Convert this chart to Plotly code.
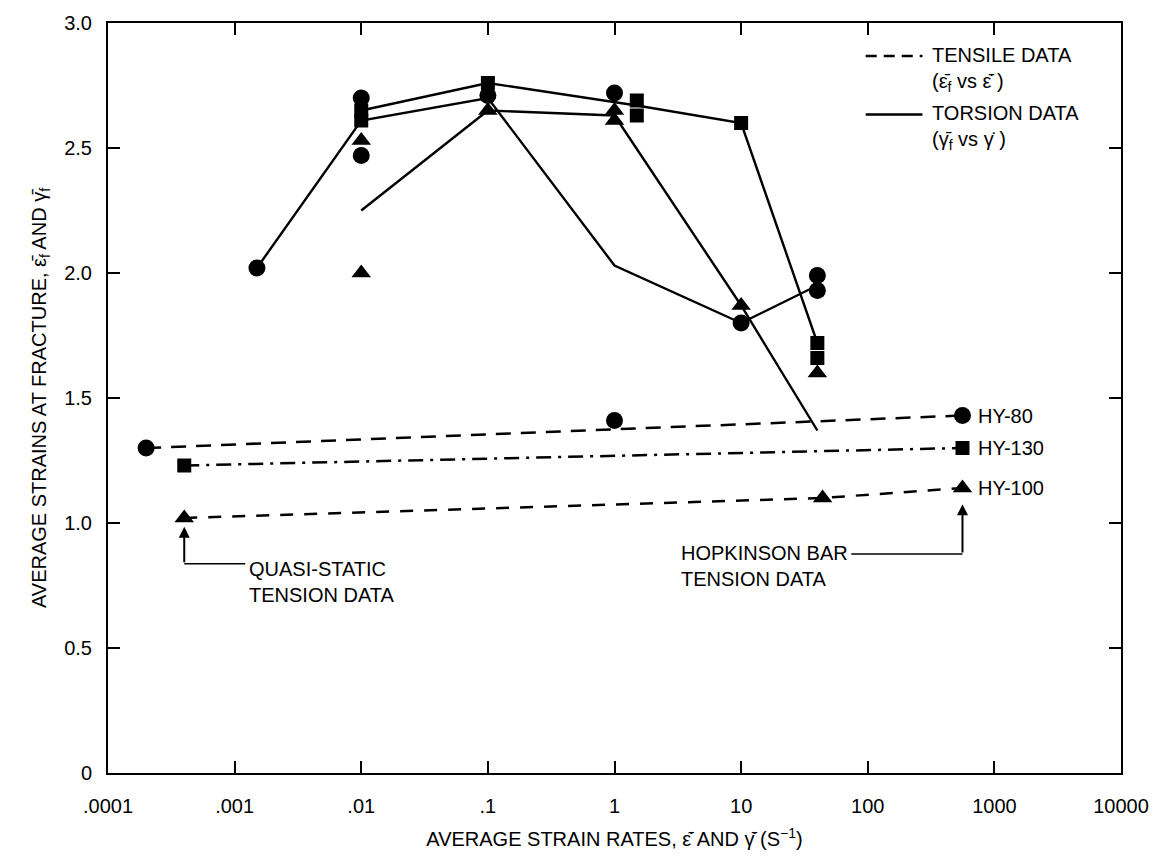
import plotly.graph_objects as go
import math

# ---------------- data ----------------
# Torsion data (solid lines): strain rate (1/s) vs fracture strain
tor_hy80_x = [0.0015, 0.01, 0.1, 1, 10, 40]
tor_hy80_y = [2.02, 2.61, 2.70, 2.03, 1.80, 1.95]
tor_hy130_x = [0.01, 0.1, 1.5, 10, 40]
tor_hy130_y = [2.65, 2.76, 2.67, 2.60, 1.72]
tor_hy100_x = [0.01, 0.1, 1, 10, 40]
tor_hy100_y = [2.25, 2.65, 2.63, 1.87, 1.37]

# Individual measured points (markers)
circ_x = [0.0015, 0.01, 0.01, 0.1, 1, 1, 10, 40, 40]
circ_y = [2.02, 2.70, 2.47, 2.71, 2.72, 1.41, 1.80, 1.99, 1.93]
sq_x = [0.01, 0.01, 0.1, 1.5, 1.5, 10, 40, 40]
sq_y = [2.65, 2.61, 2.76, 2.69, 2.63, 2.60, 1.72, 1.66]
tri_x = [0.01, 0.01, 0.1, 1, 1, 10, 40]
tri_y = [2.53, 2.00, 2.65, 2.65, 2.61, 1.87, 1.60]

# Tensile data (dashed lines)
ten_hy80_x = [0.0002, 560]
ten_hy80_y = [1.30, 1.43]
ten_hy130_x = [0.0004, 560]
ten_hy130_y = [1.23, 1.30]
ten_hy100_x = [0.0004, 44, 560]
ten_hy100_y = [1.02, 1.10, 1.14]

steel_labels = ["HY-80", "HY-130", "HY-100"]
x_tickvals = [1e-4, 1e-3, 1e-2, 1e-1, 1, 10, 100, 1000, 10000]
x_ticktext = [".0001", ".001", ".01", ".1", "1", "10", "100", "1000", "10000"]
y_tickvals = [0, 0.5, 1.0, 1.5, 2.0, 2.5, 3.0]
y_ticktext = ["0", "0.5", "1.0", "1.5", "2.0", "2.5", "3.0"]

FONT = "Liberation Sans, Arial, sans-serif"
FS = 20
BLK = "black"

fig = go.Figure()

# torsion lines
for nm, xs, ys in [("HY-80 torsion", tor_hy80_x, tor_hy80_y),
                   ("HY-130 torsion", tor_hy130_x, tor_hy130_y),
                   ("HY-100 torsion", tor_hy100_x, tor_hy100_y)]:
    fig.add_trace(go.Scatter(x=xs, y=ys, mode="lines", name=nm,
                             line=dict(color=BLK, width=2.4), showlegend=False))

# tensile lines
for nm, xs, ys, dash in [("HY-80 tensile", ten_hy80_x, ten_hy80_y, "15px,10px"),
                         ("HY-130 tensile", ten_hy130_x, ten_hy130_y, "15px,7px,3px,7px"),
                         ("HY-100 tensile", ten_hy100_x, ten_hy100_y, "13px,11px")]:
    fig.add_trace(go.Scatter(x=xs, y=ys, mode="lines", name=nm,
                             line=dict(color=BLK, width=2.5, dash=dash), showlegend=False))

# tensile end markers
fig.add_trace(go.Scatter(x=ten_hy80_x, y=ten_hy80_y, mode="markers", showlegend=False,
                         marker=dict(symbol="circle", size=17, color=BLK)))
fig.add_trace(go.Scatter(x=ten_hy130_x, y=ten_hy130_y, mode="markers", showlegend=False,
                         marker=dict(symbol="square", size=14, color=BLK)))
fig.add_trace(go.Scatter(x=ten_hy100_x, y=ten_hy100_y, mode="markers", showlegend=False,
                         marker=dict(symbol="triangle-up", size=17, color=BLK)))

# torsion markers
fig.add_trace(go.Scatter(x=circ_x, y=circ_y, mode="markers", showlegend=False,
                         marker=dict(symbol="circle", size=17, color=BLK)))
fig.add_trace(go.Scatter(x=sq_x, y=sq_y, mode="markers", showlegend=False,
                         marker=dict(symbol="square", size=14, color=BLK)))
fig.add_trace(go.Scatter(x=tri_x, y=tri_y, mode="markers", showlegend=False,
                         marker=dict(symbol="triangle-up", size=17, color=BLK)))

annotations = []
# steel labels at right end of tensile lines
for lab, xs, ys in zip(steel_labels,
                       [ten_hy80_x, ten_hy130_x, ten_hy100_x],
                       [ten_hy80_y, ten_hy130_y, ten_hy100_y]):
    annotations.append(dict(x=math.log10(xs[-1]), y=ys[-1], xref="x", yref="y",
                            text=lab, showarrow=False, xanchor="left", xshift=14,
                            font=dict(size=FS, family=FONT, color=BLK)))

# quasi-static arrow
qs_x = ten_hy100_x[0]
qs_text_x = 0.00125
annotations.append(dict(x=math.log10(qs_x), y=0.985, xref="x", yref="y",
                        ax=math.log10(qs_x), ay=0.837, axref="x", ayref="y",
                        text="", showarrow=True, arrowhead=2, arrowsize=1.1,
                        arrowwidth=2, arrowcolor=BLK))
annotations.append(dict(x=math.log10(qs_text_x), y=0.813, xref="x", yref="y",
                        text="QUASI-STATIC<br>TENSION DATA", showarrow=False,
                        xanchor="left", yanchor="top", yshift=14, align="left",
                        font=dict(size=FS, family=FONT, color=BLK)))
# hopkinson arrow
hb_x = ten_hy100_x[-1]
hb_text_x = 72
annotations.append(dict(x=math.log10(hb_x), y=1.075, xref="x", yref="y",
                        ax=math.log10(hb_x), ay=0.876, axref="x", ayref="y",
                        text="", showarrow=True, arrowhead=2, arrowsize=1.1,
                        arrowwidth=2, arrowcolor=BLK))
annotations.append(dict(x=math.log10(hb_text_x), y=0.876, xref="x", yref="y",
                        text="HOPKINSON BAR<br>TENSION DATA", showarrow=False,
                        xanchor="right", yanchor="top", yshift=14, align="left",
                        font=dict(size=FS, family=FONT, color=BLK)))

# legend texts
annotations.append(dict(x=0.811, y=0.975, xref="paper", yref="paper",
                        text="TENSILE DATA<br>(ε̄<sub>f</sub> vs ε̄̇ )", showarrow=False,
                        xanchor="left", yanchor="top", align="left",
                        font=dict(size=FS, family=FONT, color=BLK)))
annotations.append(dict(x=0.811, y=0.897, xref="paper", yref="paper",
                        text="TORSION DATA<br>(γ̄<sub>f</sub> vs γ̇ )", showarrow=False,
                        xanchor="left", yanchor="top", align="left",
                        font=dict(size=FS, family=FONT, color=BLK)))

shapes = [
    # legend samples
    dict(type="line", xref="paper", yref="paper", x0=0.748, x1=0.804, y0=0.956, y1=0.956,
         line=dict(color=BLK, width=2.5, dash="11px,7px")),
    dict(type="line", xref="paper", yref="paper", x0=0.748, x1=0.804, y0=0.878, y1=0.878,
         line=dict(color=BLK, width=2.4)),
    # leader lines (shapes on log axes take raw data values)
    dict(type="line", xref="x", yref="y", x0=qs_x, x1=qs_text_x * 0.97, y0=0.837, y1=0.837,
         line=dict(color=BLK, width=1.6)),
    dict(type="line", xref="x", yref="y", x0=hb_text_x * 1.03, x1=hb_x, y0=0.876, y1=0.876,
         line=dict(color=BLK, width=1.6)),
]

fig.update_layout(
    width=1161, height=867,
    margin=dict(l=108, r=39, t=20, b=94),
    paper_bgcolor="white", plot_bgcolor="white",
    font=dict(family=FONT, size=FS, color=BLK),
    showlegend=False,
    annotations=annotations, shapes=shapes,
)
fig.update_xaxes(type="log", range=[-4, 4], tickvals=x_tickvals, ticktext=x_ticktext,
                 showgrid=False, zeroline=False, showline=True, linecolor=BLK, linewidth=2,
                 mirror="ticks", ticks="inside", ticklen=12, tickwidth=2, tickcolor=BLK,
                 ticklabelstandoff=14,
                 tickfont=dict(size=FS, family=FONT, color=BLK),
                 title=dict(text="AVERAGE STRAIN RATES, ε̄̇ AND γ̄̇ (S<sup>−1</sup>)",
                            font=dict(size=FS, family=FONT, color=BLK), standoff=16))
fig.update_yaxes(range=[0, 3.0], tickvals=y_tickvals, ticktext=y_ticktext,
                 showgrid=False, zeroline=False, showline=True, linecolor=BLK, linewidth=2,
                 mirror="ticks", ticks="inside", ticklen=12, tickwidth=2, tickcolor=BLK,
                 ticklabelstandoff=10,
                 tickfont=dict(size=FS, family=FONT, color=BLK),
                 title=dict(text="AVERAGE STRAINS AT FRACTURE, ε̄<sub>f</sub> AND γ̄<sub>f</sub>",
                            font=dict(size=FS, family=FONT, color=BLK), standoff=12))

fig.write_html("out.html")
